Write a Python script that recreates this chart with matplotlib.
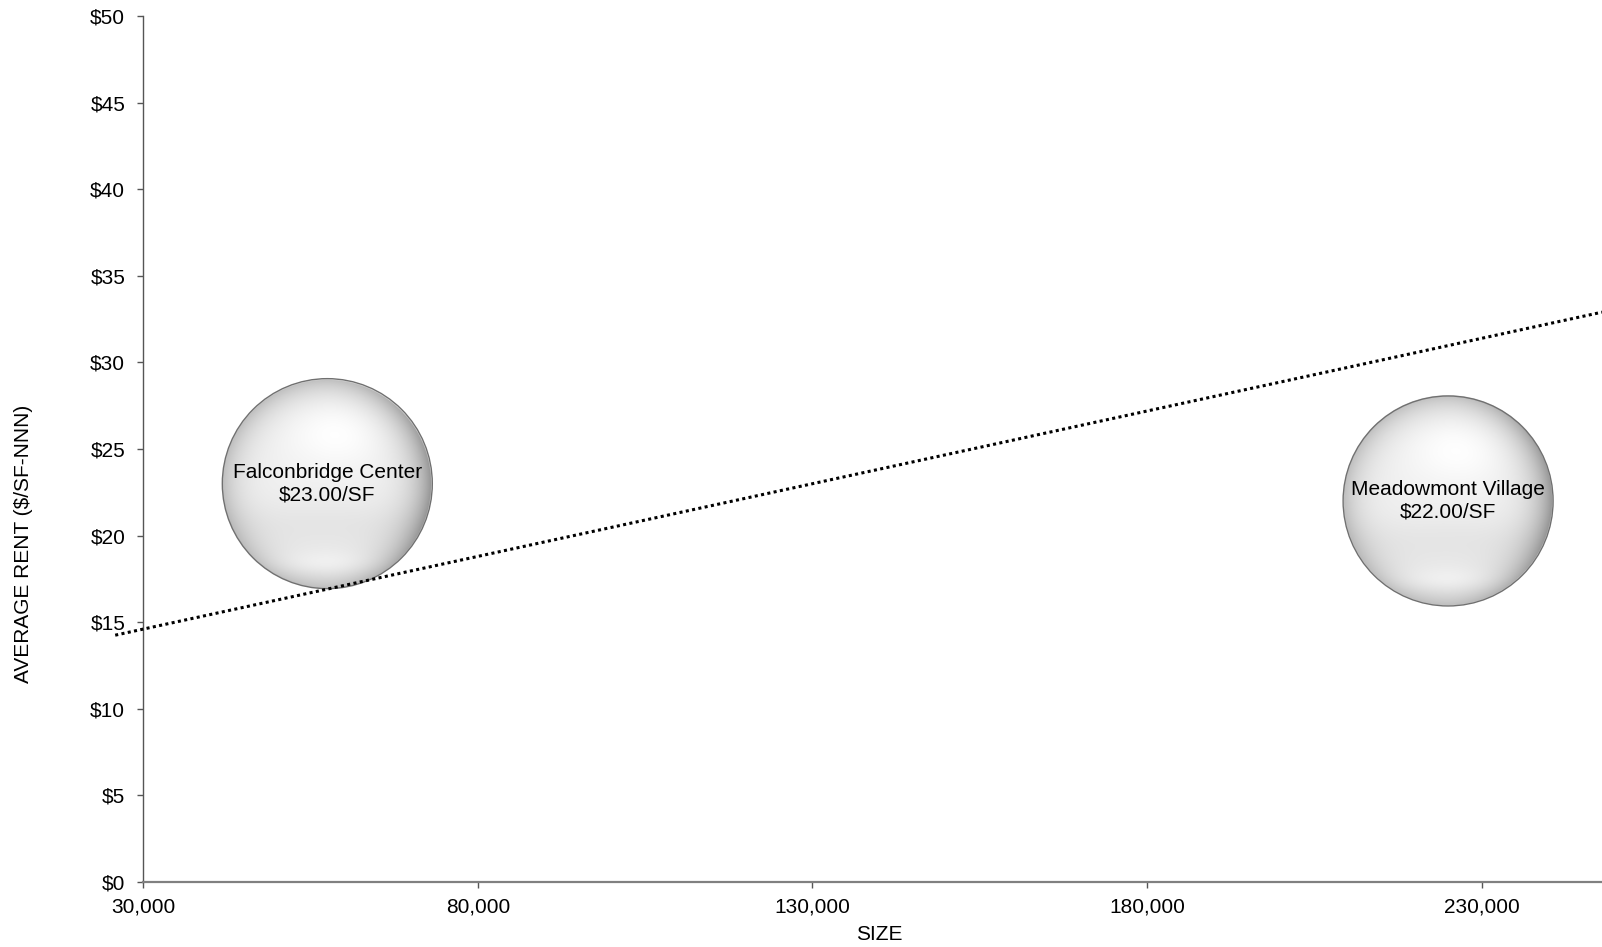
import numpy as np
import matplotlib
matplotlib.use("Agg")
import matplotlib.pyplot as plt
from matplotlib.patches import Ellipse

plt.rcParams['font.family'] = ['Liberation Sans', 'DejaVu Sans']

# ---- data ----
names = ["Falconbridge Center", "Meadowmont Village"]
sizes_sf = [57500, 225000]
rents = [23.00, 22.00]
bubble_weight = [1.0, 1.0]          # relative bubble sizes (equal)
trend_x = [25800, 248000]
trend_y = [14.25, 32.9]
x_ticks = [30000, 80000, 130000, 180000, 230000]
y_ticks = [0, 5, 10, 15, 20, 25, 30, 35, 40, 45, 50]
x_label = "SIZE"
y_label = "AVERAGE RENT ($/SF-NNN)"

FS = 15

W, H = 1602, 947
fig = plt.figure(figsize=(W / 100, H / 100), dpi=100)
ax = fig.add_axes([143.3 / W, 65 / H, (W - 143.3) / W, 866 / H])
ax.set_xlim(30000, 248000)
ax.set_ylim(0, 50)

for s in ['top', 'right']:
    ax.spines[s].set_visible(False)
ax.spines['left'].set_color('#555555')
ax.spines['left'].set_linewidth(1.0)
ax.spines['bottom'].set_color('#808080')
ax.spines['bottom'].set_linewidth(1.6)

ax.set_xticks(x_ticks)
ax.set_xticklabels([f"{v:,}" for v in x_ticks])
ax.set_yticks(y_ticks)
ax.set_yticklabels([f"${v}" for v in y_ticks])
ax.tick_params(axis='both', direction='out', length=4, width=1.0,
               color='#555555', labelsize=FS, labelcolor='black')
ax.tick_params(axis='x', pad=7)
ax.tick_params(axis='y', pad=9)

ax.set_xlabel(x_label, fontsize=FS)
ax.set_ylabel(y_label, fontsize=FS)
ax.xaxis.set_label_coords(0.5044, -0.0612)
ax.xaxis.label.set_va('center')
ax.yaxis.set_label_coords(-0.0818, 0.391)
ax.yaxis.label.set_va('center')

# ---- sphere image ----
N = 420
g = np.linspace(-1, 1, N)
U, V = np.meshgrid(g, -g)
R = np.clip(np.sqrt(U ** 2 + V ** 2), 0, 1.2)
Rc = np.clip(R, 0, 1)
val = 0.94 - 0.20 * Rc ** 6
val += 0.06 * np.exp(-(((U - 0.1) ** 2) / 0.25 + ((V - 0.5) ** 2) / 0.12))
val -= 0.16 * np.clip(U, 0, 1) ** 1.5 * Rc ** 3
val -= 0.04 * np.exp(-((V + 0.4) ** 2) / 0.06) * (1 - 0.5 * U ** 2)
val += 0.04 * np.exp(-((U ** 2) / 0.3 + ((V + 0.76) ** 2) / 0.012))
val = np.clip(val, 0, 1)
alpha = np.clip((1 - R) * N / 2, 0, 1)
img = np.dstack([val, val, val, alpha])

max_r_px = 105
fig.canvas.draw()
for x, y, w, lab, rent in zip(sizes_sf, rents, bubble_weight, names, rents):
    r_px = max_r_px * np.sqrt(w / max(bubble_weight))
    cx, cy = ax.transData.transform((x, y))
    inv = ax.transData.inverted()
    x0, y0 = inv.transform((cx - r_px, cy - r_px))
    x1, y1 = inv.transform((cx + r_px, cy + r_px))
    ax.imshow(img, extent=[x0, x1, y0, y1], aspect='auto', zorder=2,
              interpolation='bilinear')
    ax.add_patch(Ellipse((x, y), x1 - x0, y1 - y0, facecolor='none',
                         edgecolor='#707070', linewidth=1.0, zorder=3))
    ax.text(x, y, f"{lab}\n${rent:.2f}/SF", ha='center', va='center',
            fontsize=FS, linespacing=1.2, zorder=5)

ax.set_xlim(30000, 248000)
ax.set_ylim(0, 50)

ax.plot(trend_x, trend_y, color='black', linewidth=2.2,
        linestyle=(0, (1, 1.1)), zorder=4, clip_on=False)

fig.savefig("out.png", dpi=100)
